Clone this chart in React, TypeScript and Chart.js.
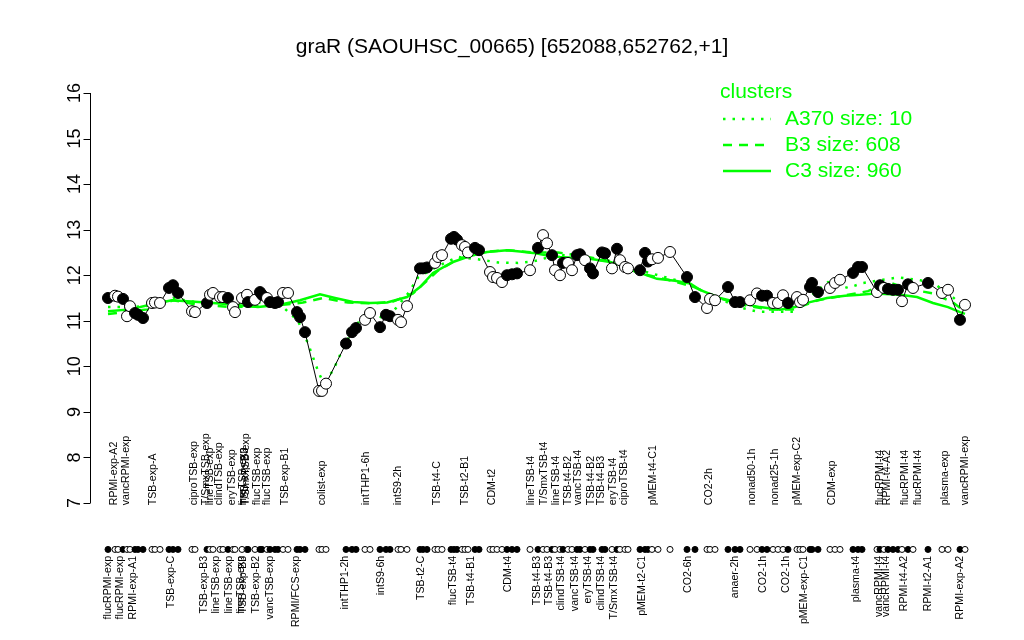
import React, { useEffect, useRef } from 'react';
import { Chart, registerables } from 'chart.js';

Chart.register(...registerables);

const TITLE = 'graR (SAOUHSC_00665) [652088,652762,+1]';
const GREEN = '#00FF00';
const FONT = '"Liberation Sans", Arial, Helvetica, sans-serif';

// sample positions along the condition axis, expression values, filled marker flag
const samplePos = [
  0, 1.4, 2, 3, 3.8, 4.4, 5.4, 6, 7, 8.8, 9.4, 10.4, 12.2, 13, 14, 16.8, 17.4,
  19.8, 20.4, 21, 22.4, 23, 24, 25, 25.4, 26.8, 27.8, 28, 29.4, 30.4, 30.8, 31.8,
  32.4, 33.4, 34, 35, 36, 37.8, 38.4, 39.4, 42.2, 42.8, 43.6, 47.6, 48.8, 49.6,
  51.4, 52.4, 54.4, 55.6, 56.4, 58, 58.6, 59.8, 62.4, 63, 63.8, 65.4, 66, 66.8,
  68.6, 69.2, 69.8, 70.8, 71.4, 72, 73.4, 74.2, 76.4, 77, 77.8, 78.8, 79.8, 80.8,
  81.8, 84.4, 86, 87, 87.8, 88.8, 89.4, 90.4, 91, 92, 92.8, 93.8, 94.4, 95.4,
  96.4, 97, 98.8, 99.4, 100.8, 101.8, 102.4, 103.4, 104, 106.4, 107.4, 108,
  108.8, 110, 112.4, 115.8, 117.4, 119.8, 120.4, 121.4, 124, 125.4, 126.4,
  128.4, 129.8, 130.8, 131.8, 133, 134, 135, 136, 137.8, 138.4, 139, 140.4,
  140.8, 142, 144.4, 145.4, 146.4, 149, 150, 150.8, 153.8, 154.4, 155.2, 156,
  157, 158, 158.8, 160, 161, 164, 166.8, 168, 170.4, 171.4,
];
const sampleVal = [
  11.5, 11.55, 11.53, 11.48, 11.1, 11.32, 11.17, 11.13, 11.06, 11.39, 11.4, 11.39, 11.72, 11.78, 11.61, 11.21, 11.19,
  11.39, 11.57, 11.61, 11.52, 11.52, 11.5, 11.3, 11.19, 11.5, 11.57, 11.41, 11.46, 11.63, 11.57, 11.5,
  11.41, 11.39, 11.41, 11.61, 11.61, 11.19, 11.08, 10.75, 9.46, 9.46, 9.62, 10.5, 10.75, 10.84,
  11.02, 11.17, 10.86, 11.13, 11.1, 11.02, 10.97, 11.32, 12.15, 12.15, 12.17, 12.27, 12.4, 12.44,
  12.8, 12.84, 12.78, 12.66, 12.62, 12.5, 12.6, 12.55, 12.07, 11.96, 11.94, 11.85, 12.0, 12.02,
  12.04, 12.11, 12.6, 12.88, 12.7, 12.44, 12.11, 12.0, 12.27, 12.27, 12.11, 12.44, 12.46, 12.33,
  12.15, 12.04, 12.5, 12.48, 12.15, 12.58, 12.33, 12.18, 12.15, 12.11, 12.49, 12.3,
  12.35, 12.38, 12.51, 11.96, 11.52, 11.28, 11.48, 11.45, 11.74, 11.41, 11.41,
  11.45, 11.6, 11.55, 11.55, 11.39, 11.39, 11.56, 11.39, 11.52, 11.41, 11.46, 11.74,
  11.83, 11.63, 11.72, 11.83, 11.9, 12.05, 12.18, 12.18, 11.63, 11.78, 11.72, 11.7,
  11.68, 11.68, 11.43, 11.8, 11.72, 11.83, 11.61, 11.68, 11.02, 11.35,
];
const sampleFilled = [
  1, 0, 0, 1, 0, 0, 1, 1, 1, 0, 0, 0, 1, 1, 1, 0, 0,
  1, 0, 0, 0, 0, 1, 0, 0, 0, 0, 1, 0, 1, 1, 0,
  1, 1, 1, 0, 0, 1, 1, 1, 0, 0, 0, 1, 1, 1,
  0, 0, 1, 1, 1, 0, 0, 0, 1, 1, 1, 0, 0, 0,
  1, 1, 1, 0, 0, 0, 1, 1, 0, 0, 0, 0, 1, 1,
  1, 0, 1, 0, 0, 1, 0, 0, 1, 0, 0, 1, 1, 0,
  1, 1, 1, 1, 0, 1, 0, 0, 0, 1, 1, 1,
  0, 0, 0, 1, 1, 0, 0, 0, 1, 1, 1,
  0, 0, 1, 1, 0, 0, 0, 1, 0, 0, 0, 1,
  1, 1, 0, 0, 0, 1, 1, 1, 0, 1, 0, 1,
  1, 1, 0, 1, 0, 1, 0, 0, 1, 0,
];

// cluster profiles
const c3Pos = [0, 4.4, 8.4, 12.8, 17.4, 22.4, 30, 34.4, 38.4, 42.4, 45.4, 49, 52.4, 55.8, 59.8, 62.4, 65, 69, 72.4, 75.8, 79.8, 82.4, 85, 88.4, 90.4, 96.4, 100.4, 103.4, 106.4, 109.8, 113.4, 116.4, 118.4, 122.4, 126.4, 130.4, 134.4, 137.4, 140.4, 143.8, 147.4, 150.4, 153.4, 158.4, 161.8, 165, 168, 170.4, 171.4];
const c3Val = [11.21, 11.25, 11.35, 11.45, 11.42, 11.38, 11.3, 11.35, 11.45, 11.58, 11.5, 11.41, 11.39, 11.4, 11.52, 11.74, 12.05, 12.29, 12.42, 12.51, 12.55, 12.52, 12.49, 12.42, 12.4, 12.36, 12.29, 12.2, 12.05, 11.92, 11.88, 11.82, 11.68, 11.5, 11.39, 11.3, 11.24, 11.3, 11.41, 11.5, 11.55, 11.57, 11.6, 11.57, 11.52, 11.39, 11.3, 11.19, 11.15];
const b3Pos = [0, 8, 13, 18, 25, 30, 35, 39, 43, 48, 53, 57, 61, 63, 66, 70, 74, 80, 85, 90, 96, 101, 106, 112, 117, 122, 127, 132, 137, 142, 147, 152, 156, 160, 165, 169, 171.4];
const b3Val = [11.15, 11.25, 11.45, 11.35, 11.3, 11.32, 11.35, 11.4, 11.5, 11.4, 11.38, 11.42, 11.6, 11.8, 12.1, 12.35, 12.5, 12.55, 12.5, 12.5, 12.4, 12.3, 12.05, 11.9, 11.75, 11.5, 11.35, 11.25, 11.25, 11.45, 11.55, 11.65, 11.85, 11.7, 11.6, 11.4, 11.2];
const a370Pos = [0, 5, 10, 13, 18, 25, 30, 35, 38, 40, 42, 43, 45, 47, 49, 51, 53, 55, 57, 60, 62, 66, 70, 74, 78, 82, 85, 90, 95, 100, 105, 110, 115, 118, 122, 126, 130, 134, 137, 140, 144, 148, 151, 155, 158, 162, 165, 168, 171.4];
const a370Val = [11.3, 11.3, 11.35, 11.5, 11.4, 11.4, 11.4, 11.3, 11.0, 10.5, 9.9, 9.65, 9.9, 10.4, 10.8, 11.1, 11.2, 11.05, 11.2, 11.6, 11.95, 12.2, 12.4, 12.35, 12.28, 12.27, 12.3, 12.45, 12.4, 12.3, 12.15, 12.0, 11.85, 11.7, 11.5, 11.3, 11.2, 11.2, 11.2, 11.5, 11.85, 11.72, 11.83, 11.9, 11.95, 11.9, 11.83, 11.6, 11.3];

const topLabels = [
  'RPMI-exp-A2', 'vancRPMI-exp', 'TSB-exp-A', 'ciproTSB-exp', 'T/SmxTSB-exp', 'lineTSB-exp',
  'clindTSB-exp', 'eryTSB-exp', 'lineTSB-exp', 'TSB-exp-B3', 'T/SmxTSB-exp', 'flucTSB-exp',
  'flucTSB-exp', 'TSB-exp-B1', 'colist-exp', 'intTHP1-6h', 'intS9-2h', 'TSB-t4-C', 'TSB-t2-B1',
  'CDM-t2', 'lineTSB-t4', 'T/SmxTSB-t4', 'lineTSB-t4', 'TSB-t4-B2', 'vancTSB-t4', 'TSB-t4-B2',
  'TSB-t4-B3', 'eryTSB-t4', 'ciproTSB-t4', 'pMEM-t4-C1', 'CO2-2h', 'nonad50-1h', 'nonad25-1h',
  'pMEM-exp-C2', 'CDM-exp', 'flucRPMI-t4', 'RPMI-t4-A2', 'flucRPMI-t4', 'flucRPMI-t4',
  'plasma-exp', 'vancRPMI-exp',
];
const topLabelPos = [
  1.2, 3.6, 9, 17.2, 19.6, 20.4, 22.2, 24.8, 27, 27.4, 27.6, 29.8, 31.8, 35.4, 42.8, 51.6, 58,
  65.8, 71.4, 76.8, 84.6, 87.2, 89.6, 92, 94, 96.6, 98.6, 101, 103.2, 109, 120.2, 128.8, 133.4,
  137.8, 144.8, 154.4, 155.8, 159.4, 162, 167.4, 171.4,
];
const bottomLabels = [
  'flucRPMI-exp', 'flucRPMI-exp', 'RPMI-exp-A1', 'TSB-exp-C', 'TSB-exp-B3', 'lineTSB-exp',
  'lineTSB-exp', 'lineTSB-exp', 'TSB-exp-B3', 'TSB-exp-B2', 'vancTSB-exp', 'RPMI/FCS-exp',
  'intTHP1-2h', 'intS9-6h', 'TSB-t2-C', 'flucTSB-t4', 'TSB-t4-B1', 'CDM-t4', 'TSB-t4-B3',
  'TSB-t4-B3', 'clindTSB-t4', 'vancTSB-t4', 'eryTSB-t4', 'clindTSB-t4', 'T/SmxTSB-t4',
  'pMEM-t2-C1', 'CO2-6h', 'anaer-2h', 'CO2-1h', 'CO2-1h', 'pMEM-exp-C1', 'plasma-t4',
  'vancRPMI-t4', 'vancRPMI-t4', 'RPMI-t4-A2', 'RPMI-t2-A1', 'RPMI-exp-A2',
];
const bottomLabelPos = [
  0, 2.4, 5, 12.6, 19.2, 21.6, 24.2, 26.6, 27, 29.6, 32.4, 37.6, 47.4, 54.6, 62.6, 69, 72.6, 80,
  85.8, 88.2, 90.6, 93.4, 96, 98.6, 101.2, 106.8, 116, 125.4, 131, 135.6, 139.2, 149.6, 154.2,
  155.6, 159.2, 164, 170.4,
];

const yTicks = [7, 8, 9, 10, 11, 12, 13, 14, 15, 16];
const legendTitle = 'clusters';
const legendNames = ['A370 size: 10', 'B3 size: 608', 'C3 size: 960'];
const legendDashes = [[2.5, 7], [9, 7], []];

// vertical anchors of the rug row and the condition names, in value units
const DOT_ROW = 5.98;
const TOP_LABEL_ROW = 6.95;
const BOTTOM_LABEL_ROW = 5.84;

const pts = (xs: number[], ys: number[]) => xs.map((x, i) => ({ x, y: ys[i] }));

const overlay = {
  id: 'overlay',
  afterDraw(chart: any) {
    const ctx = chart.ctx as CanvasRenderingContext2D;
    const xs = chart.scales.x;
    const ys = chart.scales.y;
    const area = chart.chartArea;
    ctx.save();
    ctx.fillStyle = '#000';
    ctx.font = `21px ${FONT}`;
    ctx.textAlign = 'center';
    ctx.textBaseline = 'middle';
    ctx.fillText(TITLE, chart.width / 2, 47);

    // y axis
    const ax = Math.round(area.left) + 0.5;
    ctx.strokeStyle = '#000';
    ctx.lineWidth = 1;
    ctx.beginPath();
    ctx.moveTo(ax, ys.getPixelForValue(yTicks[0]));
    ctx.lineTo(ax, ys.getPixelForValue(yTicks[yTicks.length - 1]));
    yTicks.forEach((t) => {
      const py = Math.round(ys.getPixelForValue(t)) + 0.5;
      ctx.moveTo(ax, py);
      ctx.lineTo(ax - 7, py);
    });
    ctx.stroke();
    ctx.font = `18px ${FONT}`;
    yTicks.forEach((t) => {
      const py = ys.getPixelForValue(t);
      ctx.save();
      ctx.translate(ax - 11, py);
      ctx.rotate(-Math.PI / 2);
      ctx.textAlign = 'center';
      ctx.textBaseline = 'alphabetic';
      ctx.fillText(String(t), 0, 0);
      ctx.restore();
    });

    // condition names
    ctx.font = `10.6px ${FONT}`;
    const topY = ys.getPixelForValue(TOP_LABEL_ROW);
    topLabels.forEach((t, i) => {
      ctx.save();
      ctx.translate(xs.getPixelForValue(topLabelPos[i]), topY);
      ctx.rotate(-Math.PI / 2);
      ctx.textAlign = 'left';
      ctx.textBaseline = 'middle';
      ctx.fillText(t, 0, 0);
      ctx.restore();
    });
    const botY = ys.getPixelForValue(BOTTOM_LABEL_ROW);
    bottomLabels.forEach((t, i) => {
      ctx.save();
      ctx.translate(xs.getPixelForValue(bottomLabelPos[i]), botY);
      ctx.rotate(-Math.PI / 2);
      ctx.textAlign = 'right';
      ctx.textBaseline = 'middle';
      ctx.fillText(t, 0, 0);
      ctx.restore();
    });

    // legend
    ctx.fillStyle = GREEN;
    ctx.strokeStyle = GREEN;
    ctx.font = `21px ${FONT}`;
    ctx.textAlign = 'left';
    ctx.textBaseline = 'middle';
    ctx.fillText(legendTitle, 720, 92);
    legendNames.forEach((name, i) => {
      const y = 119 + i * 26;
      ctx.setLineDash(legendDashes[i]);
      ctx.lineWidth = 2.5;
      ctx.beginPath();
      ctx.moveTo(723, y);
      ctx.lineTo(771, y);
      ctx.stroke();
      ctx.setLineDash([]);
      ctx.fillText(name, 785, y);
    });
    ctx.restore();
  },
};

export default function App() {
  const ref = useRef<HTMLCanvasElement | null>(null);
  useEffect(() => {
    if (!ref.current) return;
    const fills = sampleFilled.map((f) => (f ? '#000000' : '#ffffff'));
    const chart = new Chart(ref.current, {
      type: 'scatter',
      data: {
        datasets: [
          {
            label: 'samples',
            data: pts(samplePos, sampleVal),
            showLine: true,
            borderColor: '#000',
            borderWidth: 1,
            pointRadius: 5.5,
            pointBackgroundColor: fills,
            pointBorderColor: '#000',
            pointBorderWidth: 1,
            clip: false,
          } as any,
          {
            label: 'rug',
            data: samplePos.map((x) => ({ x, y: DOT_ROW })),
            showLine: false,
            pointRadius: 3,
            pointBackgroundColor: fills,
            pointBorderColor: '#000',
            pointBorderWidth: 1,
            clip: false,
          } as any,
          {
            label: 'C3',
            data: pts(c3Pos, c3Val),
            showLine: true,
            borderColor: GREEN,
            borderWidth: 2.5,
            pointRadius: 0,
          } as any,
          {
            label: 'B3',
            data: pts(b3Pos, b3Val),
            showLine: true,
            borderColor: GREEN,
            borderWidth: 2.5,
            borderDash: [9, 7],
            pointRadius: 0,
          } as any,
          {
            label: 'A370',
            data: pts(a370Pos, a370Val),
            showLine: true,
            borderColor: GREEN,
            borderWidth: 2.5,
            borderDash: [2.5, 7],
            pointRadius: 0,
          } as any,
        ],
      },
      options: {
        responsive: false,
        animation: false,
        devicePixelRatio: 1,
        events: [],
        layout: { padding: { left: 90, right: 24, top: 79.33, bottom: 36.8 } },
        plugins: { legend: { display: false }, title: { display: false }, tooltip: { enabled: false } },
        scales: {
          x: { type: 'linear', min: -3.6, max: 178.4, display: false },
          y: { type: 'linear', min: 4.8, max: 16.3, display: false },
        },
      },
      plugins: [overlay],
    });
    return () => chart.destroy();
  }, []);
  return (
    <div style={{ position: 'absolute', left: 0, top: 0, width: 1024, height: 640, background: '#fff' }}>
      <canvas ref={ref} width={1024} height={640} style={{ display: 'block' }} />
    </div>
  );
}
